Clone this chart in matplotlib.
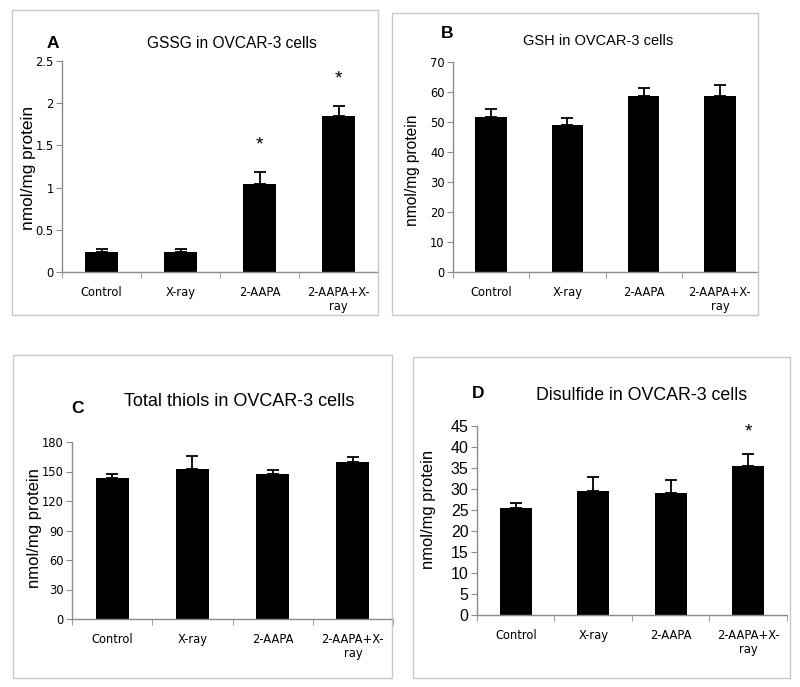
import matplotlib
matplotlib.use("Agg")
import matplotlib.pyplot as plt
from matplotlib.patches import Rectangle
from matplotlib.ticker import FixedLocator

categories = ["Control", "X-ray", "2-AAPA", "2-AAPA+X-\nray"]

gssg_mean = [0.24, 0.24, 1.04, 1.85]
gssg_err = [0.03, 0.03, 0.15, 0.12]
gssg_star = [None, None, 1.50, 2.29]

gsh_mean = [51.8, 49.1, 58.8, 58.8]
gsh_err = [2.5, 2.2, 2.5, 3.4]

thiol_mean = [143, 153, 147, 160]
thiol_err = [4, 13, 5, 5]

disulf_mean = [25.4, 29.6, 29.0, 35.5]
disulf_err = [1.2, 3.3, 3.1, 2.9]
disulf_star = [None, None, None, 43.6]

gssg_ticks = [0, 0.5, 1, 1.5, 2, 2.5]
gssg_ticklabels = ["0", "0.5", "1", "1.5", "2", "2.5"]
gsh_ticks = [0, 10, 20, 30, 40, 50, 60, 70]
thiol_ticks = [0, 30, 60, 90, 120, 150, 180]
disulf_ticks = [0, 5, 10, 15, 20, 25, 30, 35, 40, 45]

W, H = 800, 687
fig = plt.figure(figsize=(W / 100, H / 100), dpi=100)
fig.patch.set_facecolor("white")

GRAY = "#8c8c8c"
TITLE_FONT = ["Liberation Sans", "DejaVu Sans"]
TICK_FONT = ["DejaVu Sans"]


def fx(x):
    return x / W


def fy(y):
    return 1 - y / H


def border(l, t, r, b):
    fig.add_artist(Rectangle((fx(l), fy(b)), (r - l) / W, (b - t) / H,
                             transform=fig.transFigure, fill=False,
                             edgecolor="#c8c8c8", linewidth=1.0))


def panel(l, t, r, b, mean, err, ymax, ticks, ticklabels, ytick_size,
          ytick_font, stars=None):
    ax = fig.add_axes([fx(l), fy(b), (r - l) / W, (b - t) / H])
    x = list(range(len(categories)))
    ax.bar(x, mean, width=0.41, color="black", zorder=2)
    ax.errorbar(x, mean, yerr=[[0] * len(err), err], fmt="none",
                ecolor="black", elinewidth=1.3, capsize=4.5, capthick=1.3,
                zorder=3)
    if stars:
        for xi, s in zip(x, stars):
            if s is not None:
                ax.text(xi, s, "*", ha="center", va="center", fontsize=14,
                        family=TITLE_FONT)
    ax.set_xlim(-0.5, len(categories) - 0.5)
    ax.set_ylim(0, ymax)
    for sp in ["top", "right"]:
        ax.spines[sp].set_visible(False)
    for sp in ["left", "bottom"]:
        ax.spines[sp].set_color(GRAY)
        ax.spines[sp].set_linewidth(1.0)
    ax.set_yticks(ticks)
    ax.set_yticklabels(ticklabels if ticklabels else [str(v) for v in ticks],
                       fontsize=ytick_size, family=ytick_font)
    ax.tick_params(axis="y", length=4, color=GRAY, pad=2)
    ax.set_xticks(x)
    ax.set_xticklabels(categories, fontsize=8.3, family=TICK_FONT,
                       linespacing=1.15)
    ax.tick_params(axis="x", which="major", length=0, pad=10)
    ax.xaxis.set_minor_locator(FixedLocator([i - 0.5 for i in range(len(categories) + 1)]))
    ax.tick_params(axis="x", which="minor", length=4, color=GRAY)
    ax.set_facecolor("none")
    return ax


# Panel A
border(12, 10, 378, 315)
panel(62, 61, 378, 272, gssg_mean, gssg_err, 2.5, gssg_ticks,
      gssg_ticklabels, 8.3, TICK_FONT, gssg_star)
fig.text(fx(53), fy(43), "A", ha="center", va="center", fontsize=12.5,
         fontweight="bold", family=TITLE_FONT)
fig.text(fx(232), fy(43), "GSSG in OVCAR-3 cells", ha="center", va="center",
         fontsize=11.2, family=TITLE_FONT)
fig.text(fx(28), fy(168), "nmol/mg protein", rotation=90, ha="center",
         va="center", fontsize=12.4, family=TITLE_FONT)

# Panel B
border(392, 13, 758, 315)
panel(453, 62, 758, 272, gsh_mean, gsh_err, 70, gsh_ticks, None, 8.3,
      TICK_FONT)
fig.text(fx(447), fy(34), "B", ha="center", va="center", fontsize=12.5,
         fontweight="bold", family=TITLE_FONT)
fig.text(fx(598), fy(41), "GSH in OVCAR-3 cells", ha="center", va="center",
         fontsize=10.5, family=TITLE_FONT)
fig.text(fx(413), fy(170), "nmol/mg protein", rotation=90, ha="center",
         va="center", fontsize=11.2, family=TITLE_FONT)

# Panel C
border(13, 355, 392, 678)
panel(72, 442, 393, 619, thiol_mean, thiol_err, 180, thiol_ticks, None, 8.3,
      TICK_FONT)
fig.text(fx(77), fy(408), "C", ha="center", va="center", fontsize=12.5,
         fontweight="bold", family=TITLE_FONT)
fig.text(fx(239), fy(402), "Total thiols in OVCAR-3 cells", ha="center",
         va="center", fontsize=13, family=TITLE_FONT)
fig.text(fx(35), fy(528), "nmol/mg protein", rotation=90, ha="center",
         va="center", fontsize=12, family=TITLE_FONT)

# Panel D
border(413, 357, 790, 678)
panel(477, 426, 787, 615, disulf_mean, disulf_err, 45, disulf_ticks, None,
      11.5, TITLE_FONT, disulf_star)
fig.text(fx(478), fy(393), "D", ha="center", va="center", fontsize=12.5,
         fontweight="bold", family=TITLE_FONT)
fig.text(fx(642), fy(396), "Disulfide in OVCAR-3 cells", ha="center",
         va="center", fontsize=12.8, family=TITLE_FONT)
fig.text(fx(428), fy(509), "nmol/mg protein", rotation=90, ha="center",
         va="center", fontsize=11.9, family=TITLE_FONT)

fig.savefig("out.png", dpi=100, facecolor="white")
